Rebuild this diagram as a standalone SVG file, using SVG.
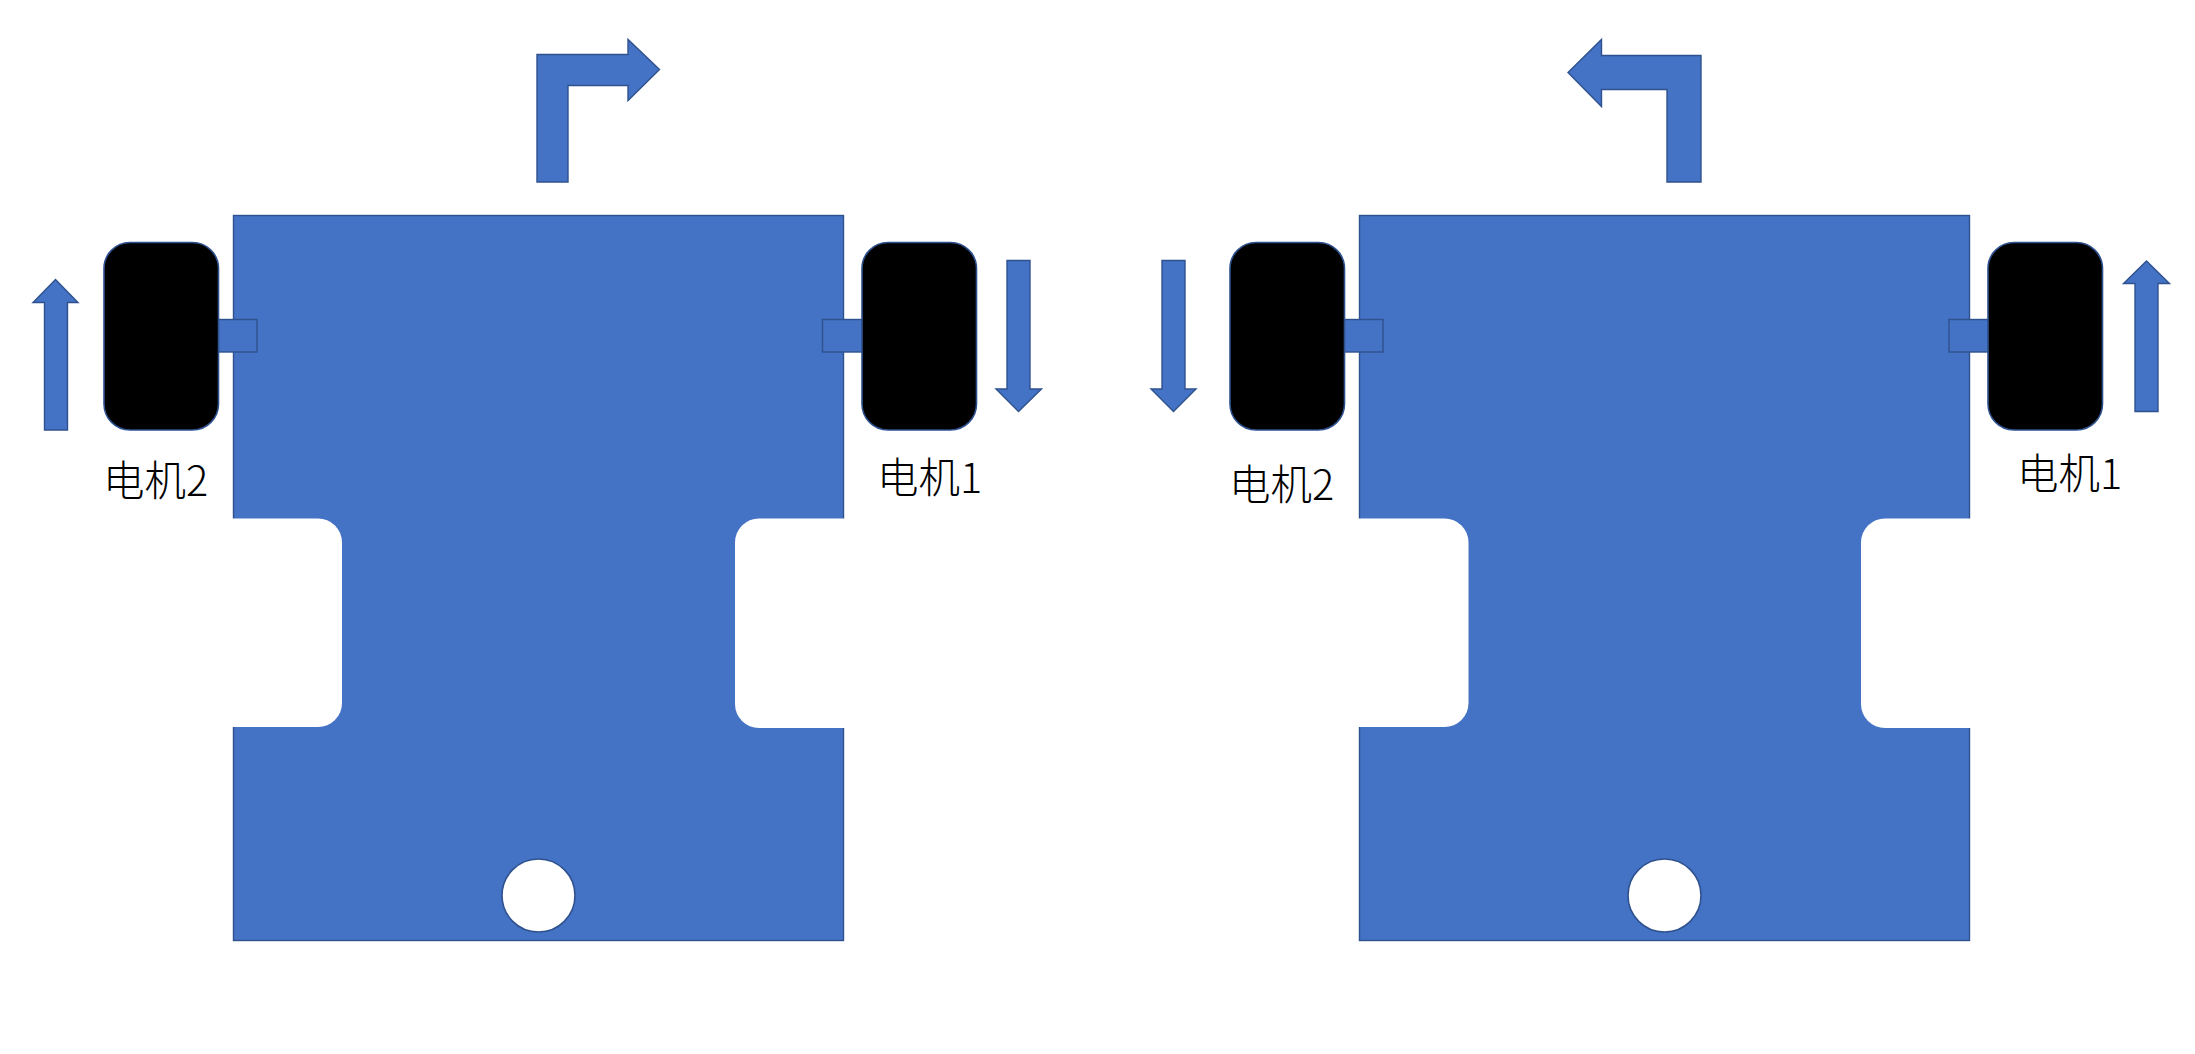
<svg xmlns="http://www.w3.org/2000/svg" width="2195" height="1054" viewBox="0 0 2195 1054">
<style>
.s{fill:#4472C4;stroke:#2F528F;stroke-width:1.4}
.w{fill:#000;stroke:#2F528F;stroke-width:1.6}
.h{fill:#fff;stroke:#2F528F;stroke-width:1.6}
.n{fill:#fff;stroke:none}
text{font-family:"Noto Sans CJK SC","Noto Sans",sans-serif;font-size:41.500px;font-weight:300;fill:#000}
</style>
<rect width="2195" height="1054" fill="#fff"/>
<g id="car-left">
<rect class="s" x="233.500" y="215.500" width="610" height="725"/>
<path class="n" d="M232 518.500H318A24 24 0 0 1 342 542.500V703A24 24 0 0 1 318 727H232Z"/>
<path class="n" d="M845 518.500H759A24 24 0 0 0 735 542.500V704A24 24 0 0 0 759 728H845Z"/>
<circle class="h" cx="538.500" cy="895.500" r="36.500"/>
</g>
<g id="axle-left-2"><rect class="s" x="218" y="319.500" width="39" height="32.500"/></g>
<g id="axle-left-1"><rect class="s" x="822.500" y="319.500" width="40" height="32.500"/></g>
<g id="wheel-left-2"><rect class="w" x="104" y="242.500" width="114.500" height="187.500" rx="26"/></g>
<g id="wheel-left-1"><rect class="w" x="862" y="242.500" width="114.500" height="187.500" rx="26"/></g>
<g id="car-right">
<rect class="s" x="1359.500" y="215.500" width="610" height="725"/>
<path class="n" d="M1358 518.500H1444.500A24 24 0 0 1 1468.500 542.500V703A24 24 0 0 1 1444.500 727H1358Z"/>
<path class="n" d="M1971 518.500H1885A24 24 0 0 0 1861 542.500V704A24 24 0 0 0 1885 728H1971Z"/>
<circle class="h" cx="1664.500" cy="895.500" r="36.500"/>
</g>
<g id="axle-right-2"><rect class="s" x="1344" y="319.500" width="39" height="32.500"/></g>
<g id="axle-right-1"><rect class="s" x="1949" y="319.500" width="39.500" height="32.500"/></g>
<g id="wheel-right-2"><rect class="w" x="1230" y="242.500" width="114.500" height="187.500" rx="26"/></g>
<g id="wheel-right-1"><rect class="w" x="1988" y="242.500" width="114.500" height="187.500" rx="26"/></g>
<g id="connectors">
<path id="turn-right" class="s" d="M537 182V54.500H628V39.500L659.500 69.500L628 100.500V85.500H568V182Z"/>
<path id="turn-left" class="s" d="M1701 182V55.500H1601.500V39.500L1568 72.500L1601.500 106.500V89.500H1667V182Z"/>
<path id="arrow-left-2" class="s" d="M44.500 430V302.500H33L55.500 279.500L78 302.500H67.500V430Z"/>
<path id="arrow-left-1" class="s" d="M1007 260.500H1030V389H1041.500L1018.500 411.500L996 389H1007Z"/>
<path id="arrow-right-2" class="s" d="M1162 260.500H1185V389H1196L1173.500 411.500L1151 389H1162Z"/>
<path id="arrow-right-1" class="s" d="M2135 411.500V283.500H2123.500L2146.500 261L2169.500 283.500H2158V411.500Z"/>
</g>
<g id="label-left-2"><text x="103" y="496">电机2</text></g>
<g id="label-left-1"><text x="877" y="493">电机1</text></g>
<g id="label-right-2"><text x="1229" y="500">电机2</text></g>
<g id="label-right-1"><text x="2017" y="489">电机1</text></g>
</svg>
